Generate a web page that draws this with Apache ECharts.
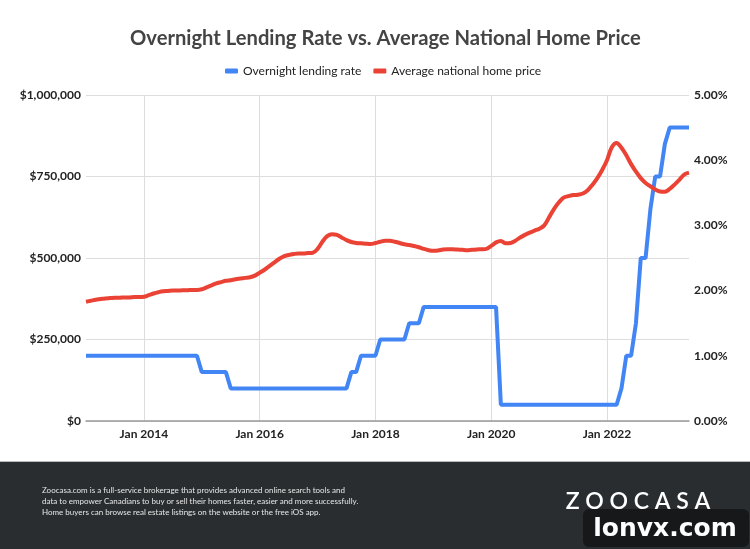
<!DOCTYPE html>
<html lang="en">
<head>
    <meta charset="UTF-8">
    <title>Overnight Lending Rate vs. Average National Home Price</title>
</head>
<style>
    * {
        margin: 0;
        padding: 0;
    }

    html, body {
        width: 750px;
        height: 549px;
        background: #fff;
    }

    #chart {
        width: 750px;
        height: 549px;
    }
</style>
<script src="https://cdn.jsdelivr.net/npm/echarts@6/dist/echarts.min.js"></script>
<body>
<div id="chart"></div>
</body>
<script>
  // monthly, Jan 2013 .. Jun 2023
  const startYear = 2013
  const monthCount = 126
  const tickLabels = ['Jan 2014', 'Jan 2016', 'Jan 2018', 'Jan 2020', 'Jan 2022']

  // overnight lending rate, %
  const lendingRate = [
    1, 1, 1, 1, 1, 1, 1, 1, 1, 1, 1, 1,
    1, 1, 1, 1, 1, 1, 1, 1, 1, 1, 1, 1,
    0.75, 0.75, 0.75, 0.75, 0.75, 0.75, 0.5, 0.5, 0.5, 0.5, 0.5, 0.5,
    0.5, 0.5, 0.5, 0.5, 0.5, 0.5, 0.5, 0.5, 0.5, 0.5, 0.5, 0.5,
    0.5, 0.5, 0.5, 0.5, 0.5, 0.5, 0.5, 0.75, 0.75, 1, 1, 1,
    1, 1.25, 1.25, 1.25, 1.25, 1.25, 1.25, 1.5, 1.5, 1.5, 1.75, 1.75,
    1.75, 1.75, 1.75, 1.75, 1.75, 1.75, 1.75, 1.75, 1.75, 1.75, 1.75, 1.75,
    1.75, 1.75, 0.25, 0.25, 0.25, 0.25, 0.25, 0.25, 0.25, 0.25, 0.25, 0.25,
    0.25, 0.25, 0.25, 0.25, 0.25, 0.25, 0.25, 0.25, 0.25, 0.25, 0.25, 0.25,
    0.25, 0.25, 0.25, 0.5, 1, 1, 1.5, 2.5, 2.5, 3.25, 3.75, 3.75,
    4.25, 4.5, 4.5, 4.5, 4.5, 4.5
  ]

  // average national home price, $
  const homePrice = [
    366000, 369000, 372000, 374000, 376000, 377000, 378000, 378000, 379000, 379000, 380000, 380000,
    381000, 386000, 391000, 395000, 398000, 399000, 400000, 400000, 401000, 401000, 402000, 402000,
    404000, 410000, 416000, 422000, 426000, 430000, 432000, 435000, 437000, 439000, 441000, 446000,
    455000, 464000, 475000, 486000, 497000, 505000, 509000, 512000, 514000, 514000, 515000, 516000,
    528000, 550000, 567000, 573000, 571000, 563000, 555000, 549000, 546000, 545000, 544000, 543000,
    546000, 550000, 553000, 553000, 550000, 546000, 542000, 540000, 537000, 533000, 528000, 524000,
    522000, 523000, 526000, 527000, 527000, 526000, 525000, 524000, 525000, 526000, 527000, 528000,
    537000, 548000, 552000, 545000, 546000, 553000, 563000, 571000, 578000, 584000, 590000, 600000,
    625000, 650000, 670000, 685000, 690000, 693000, 694000, 698000, 708000, 725000, 745000, 770000,
    800000, 840000, 853000, 838000, 815000, 788000, 765000, 745000, 730000, 720000, 710000, 704000,
    703000, 712000, 725000, 740000, 756000, 762000
  ]

  const footerLines = [
    'Zoocasa.com is a full-service brokerage that provides advanced online search tools and',
    'data to empower Canadians to buy or sell their homes faster, easier and more successfully.',
    'Home buyers can browse real estate listings on the website or the free iOS app.'
  ]

  const monthNames = ['Jan', 'Feb', 'Mar', 'Apr', 'May', 'Jun', 'Jul', 'Aug', 'Sep', 'Oct', 'Nov', 'Dec']
  const months = []
  for (let i = 0; i < monthCount; i++) {
    months.push(monthNames[i % 12] + ' ' + (startYear + Math.floor(i / 12)))
  }

  const isTick = (index, value) => tickLabels.indexOf(value) !== -1
  const font = 'Lato, "Open Sans", sans-serif'

  const chart = echarts.init(document.getElementById('chart'))

  chart.setOption({
    animation: false,
    backgroundColor: '#fff',
    textStyle: {fontFamily: font},
    title: {
      text: 'Overnight Lending Rate vs. Average National Home Price',
      left: 125,
      top: 23,
      textStyle: {fontSize: 20.2, fontWeight: 'bold', color: '#444', fontFamily: font}
    },
    legend: {
      top: 60,
      left: 220,
      icon: 'roundRect',
      itemWidth: 13,
      itemHeight: 5,
      itemGap: 12,
      textStyle: {fontSize: 12, color: '#222', fontFamily: font}
    },
    grid: {
      left: 86,
      right: 61,
      top: 95,
      bottom: 128
    },
    xAxis: {
      type: 'category',
      boundaryGap: false,
      data: months,
      axisLine: {lineStyle: {color: '#999', width: 1.5}},
      axisTick: {show: false},
      axisLabel: {
        interval: isTick,
        margin: 7,
        fontSize: 12,
        fontWeight: 'bold',
        color: '#222',
        fontFamily: font
      },
      splitLine: {
        show: true,
        interval: isTick,
        lineStyle: {color: '#ddd', width: 1}
      }
    },
    yAxis: [
      {
        type: 'value',
        min: 0,
        max: 1000000,
        interval: 250000,
        axisLine: {show: false},
        axisTick: {show: false},
        axisLabel: {
          margin: 5,
          fontSize: 12,
          fontWeight: 'bold',
          color: '#222',
          fontFamily: font,
          formatter: v => '$' + v.toLocaleString('en-US')
        },
        splitLine: {lineStyle: {color: '#ddd', width: 1}}
      },
      {
        type: 'value',
        min: 0,
        max: 5,
        interval: 1,
        position: 'right',
        axisLine: {show: false},
        axisTick: {show: false},
        axisLabel: {
          margin: 5,
          fontSize: 12,
          fontWeight: 'bold',
          color: '#222',
          fontFamily: font,
          formatter: v => v.toFixed(2) + '%'
        },
        splitLine: {show: false}
      }
    ],
    series: [
      {
        name: 'Overnight lending rate',
        type: 'line',
        yAxisIndex: 1,
        data: lendingRate,
        showSymbol: false,
        color: '#4285f4',
        lineStyle: {width: 4, color: '#4285f4'}
      },
      {
        name: 'Average national home price',
        type: 'line',
        yAxisIndex: 0,
        data: homePrice,
        showSymbol: false,
        smooth: 0.35,
        color: '#ea4335',
        lineStyle: {width: 4, color: '#ea4335'}
      }
    ],
    graphic: [
      {
        type: 'rect',
        shape: {x: 0, y: 462, width: 750, height: 87},
        style: {fill: '#292d30'}
      },
      {
        type: 'rect',
        shape: {x: 0, y: 461, width: 750, height: 1},
        style: {fill: '#bbb'}
      },
      {
        type: 'text',
        x: 42,
        y: 485,
        style: {
          text: footerLines.join('\n'),
          fill: '#e6e6e6',
          font: '8px ' + font,
          lineHeight: 11
        }
      },
      {
        type: 'text',
        x: 638,
        y: 502,
        style: {
          text: 'Z O O C A S A',
          fill: '#fff',
          font: '600 23px ' + font,
          align: 'center',
          verticalAlign: 'middle'
        }
      },
      {
        type: 'rect',
        shape: {x: 583, y: 509, width: 166, height: 38, r: 6},
        style: {fill: '#161819'}
      },
      {
        type: 'text',
        x: 665,
        y: 529,
        style: {
          text: 'lonvx.com',
          fill: '#fff',
          font: 'bold 25px "DejaVu Sans", sans-serif',
          align: 'center',
          verticalAlign: 'middle'
        }
      }
    ]
  })
</script>
</html>
